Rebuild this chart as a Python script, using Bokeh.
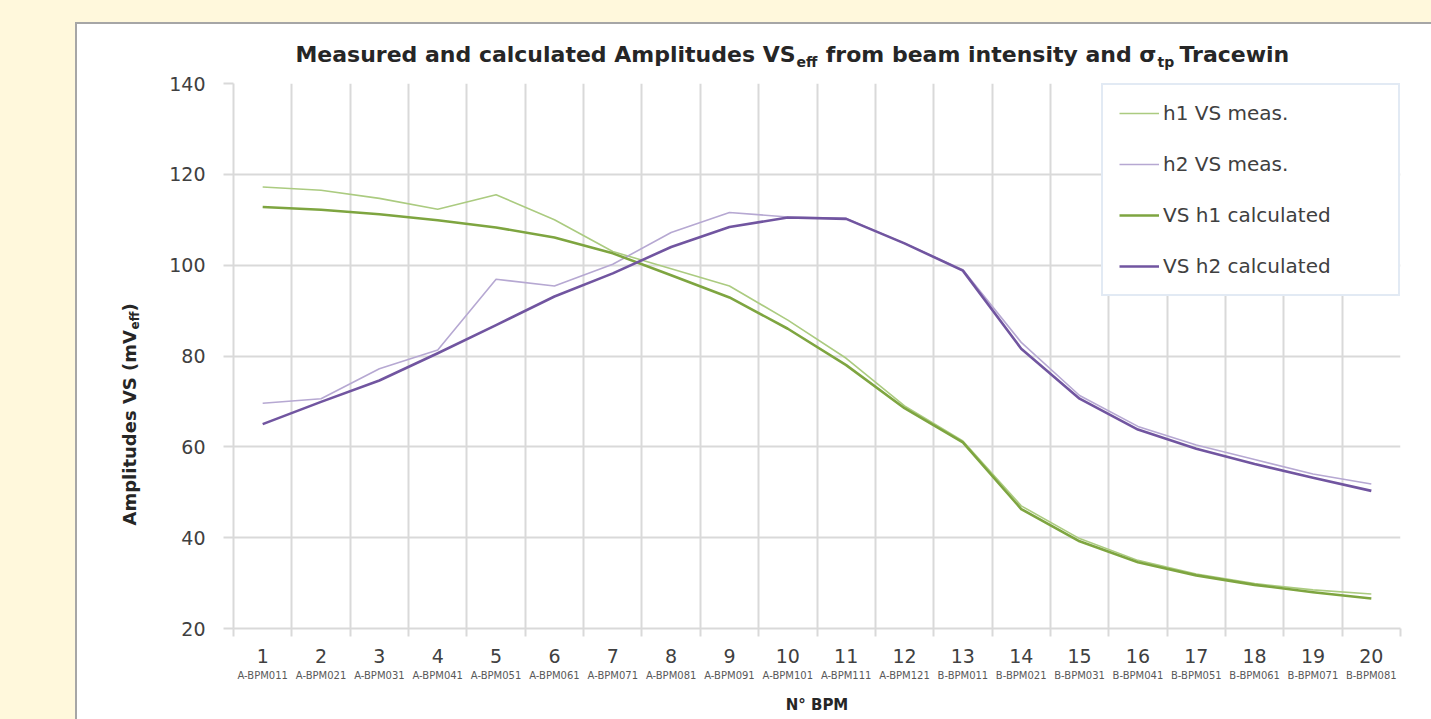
from math import pi
from bokeh.plotting import figure
from bokeh.models import (Range1d, FixedTicker, LinearAxis, Label, Spacer,
                          GlobalInlineStyleSheet)
from bokeh.layouts import column, row
from bokeh.embed import file_html
from bokeh.resources import INLINE

# ---------------- data ----------------
bpm_index = list(range(1, 21))
bpm_names = ["A-BPM011", "A-BPM021", "A-BPM031", "A-BPM041", "A-BPM051",
             "A-BPM061", "A-BPM071", "A-BPM081", "A-BPM091", "A-BPM101",
             "A-BPM111", "A-BPM121", "B-BPM011", "B-BPM021", "B-BPM031",
             "B-BPM041", "B-BPM051", "B-BPM061", "B-BPM071", "B-BPM081"]
h1_meas = [117.2, 116.5, 114.7, 112.3, 115.5, 110.0, 103.0, 99.2, 95.4, 87.9,
           79.5, 69.0, 61.3, 47.0, 39.8, 35.0, 32.0, 29.9, 28.5, 27.6]
h2_meas = [69.6, 70.6, 77.2, 81.3, 96.9, 95.4, 100.2, 107.2, 111.6, 110.6,
           110.3, 104.8, 99.0, 83.0, 71.3, 64.5, 60.4, 57.2, 54.0, 51.8]
h1_calc = [112.8, 112.2, 111.2, 109.9, 108.3, 106.1, 102.6, 97.8, 92.9, 86.0,
           78.0, 68.5, 61.0, 46.3, 39.2, 34.6, 31.7, 29.6, 28.0, 26.6]
h2_calc = [65.0, 69.9, 74.6, 80.6, 86.8, 93.1, 98.2, 104.0, 108.4, 110.5,
           110.2, 104.8, 98.8, 81.6, 70.6, 63.8, 59.6, 56.2, 53.2, 50.3]
y_ticks = [20, 40, 60, 80, 100, 120, 140]

# ---------------- styling / layout ----------------
FONT = "DejaVu Sans"
GRID = "#D9D9D9"
TXT = "#404040"
W, H = 1354, 695                 # whole white panel
PX0, PY0 = 77, 24                # page position of the panel
TH = 46                          # height of the title strip
LW = 80                          # width of the y-title strip
FL, FR, FT, FB = 233.0, 1400.0, 83.0, 628.0   # frame edges on the page

MX0, MY0 = PX0 + LW, PY0 + TH    # page position of main figure
MW, MH = W - LW, H - TH


def blank(width, height):
    f = figure(width=width, height=height, output_backend="svg", toolbar_location=None,
               x_axis_location=None, y_axis_location=None,
               x_range=Range1d(0, width), y_range=Range1d(0, height),
               min_border=0, min_border_left=0, min_border_right=0,
               min_border_top=0, min_border_bottom=0,
               border_fill_color="white", background_fill_color="white",
               outline_line_color=None)
    f.grid.visible = False
    return f


def lab(fig, ox, oy, x, y, text, size, align="left", bold=True, angle=0.0,
        color="#262626"):
    fig.add_layout(Label(x=x - ox, y=y - oy, x_units="canvas", y_units="canvas",
                         text=text, text_align=align, text_baseline="middle",
                         text_font=FONT, text_font_style="bold" if bold else "normal",
                         text_font_size=size, text_color=color, angle=angle))


# ---- title strip ----
tfig = blank(W, TH)
lab(tfig, PX0, PY0, 795, 54, "Measured and calculated Amplitudes VS", "22px", align="right")
lab(tfig, PX0, PY0, 796, 61, "eff", "14px")
lab(tfig, PX0, PY0, 1156, 54, "from beam intensity and \u03c3", "22px", align="right")
lab(tfig, PX0, PY0, 1157, 61, "tp", "14px")
lab(tfig, PX0, PY0, 1179, 54, "Tracewin", "22px")

# ---- y-title strip ----
yfig = blank(LW, MH)
lab(yfig, PX0, MY0, 129, 525, "Amplitudes VS (mV", "18px", angle=pi / 2)
lab(yfig, PX0, MY0, 134, 329, "eff", "12px", angle=pi / 2)
lab(yfig, PX0, MY0, 129, 311, ")", "18px", angle=pi / 2)

# ---- main chart ----
p = figure(width=MW, height=MH, output_backend="svg", toolbar_location=None,
           x_range=Range1d(0.5, 20.5), y_range=Range1d(20, 140),
           min_border_left=int(FL - MX0), min_border_right=int(MW - (FR - MX0)),
           min_border_top=int(FT - MY0), min_border_bottom=int(MH - (FB - MY0)),
           border_fill_color="white", background_fill_color="white",
           outline_line_color=None)

p.xgrid.ticker = FixedTicker(ticks=[k + 0.5 for k in range(0, 21)])
p.ygrid.ticker = FixedTicker(ticks=y_ticks)
p.grid.grid_line_color = GRID
p.grid.grid_line_width = 2

xa = p.xaxis[0]
xa.ticker = FixedTicker(ticks=bpm_index, minor_ticks=[k + 0.5 for k in range(0, 21)])
xa.axis_line_color = GRID
xa.axis_line_width = 2
xa.major_tick_line_color = None
xa.major_tick_out = 8
xa.major_tick_in = 0
xa.minor_tick_line_color = GRID
xa.minor_tick_line_width = 2
xa.minor_tick_out = 8
xa.minor_tick_in = 0
xa.major_label_standoff = 12
xa.major_label_text_font = FONT
xa.major_label_text_font_size = "19px"
xa.major_label_text_color = TXT

xa2 = LinearAxis(ticker=FixedTicker(ticks=bpm_index),
                 major_label_overrides={i: n for i, n in zip(bpm_index, bpm_names)})
xa2.axis_line_color = None
xa2.major_tick_line_color = None
xa2.minor_tick_line_color = None
xa2.major_tick_out = 0
xa2.major_label_standoff = 4
xa2.major_label_text_font = FONT
xa2.major_label_text_font_size = "10px"
xa2.major_label_text_color = "#595959"
xa2.axis_label = "N\u00b0 BPM"
xa2.axis_label_standoff = 12
xa2.axis_label_text_font = FONT
xa2.axis_label_text_font_style = "bold"
xa2.axis_label_text_font_size = "15px"
xa2.axis_label_text_color = "#262626"
p.add_layout(xa2, "below")

ya = p.yaxis[0]
ya.ticker = FixedTicker(ticks=y_ticks)
ya.axis_line_color = GRID
ya.axis_line_width = 2
ya.major_tick_line_color = GRID
ya.major_tick_line_width = 2
ya.major_tick_out = 10
ya.major_tick_in = 0
ya.minor_tick_line_color = None
ya.major_label_standoff = 18
ya.major_label_text_font = FONT
ya.major_label_text_font_size = "19px"
ya.major_label_text_color = TXT

p.line(bpm_index, h1_meas, line_color="#ABCB80", line_width=1.6, line_join="round",
       legend_label="h1 VS meas.")
p.line(bpm_index, h2_meas, line_color="#B6A8D2", line_width=1.6, line_join="round",
       legend_label="h2 VS meas.")
p.line(bpm_index, h1_calc, line_color="#7EA540", line_width=2.6, line_join="round",
       legend_label="VS h1 calculated")
p.line(bpm_index, h2_calc, line_color="#7155A0", line_width=2.6, line_join="round",
       legend_label="VS h2 calculated")

lg = p.legend[0]
lg.location = "top_right"
lg.margin = 0
lg.padding = 16
lg.spacing = 27
lg.label_height = 20
lg.glyph_height = 20
lg.glyph_width = 40
lg.label_standoff = 4
lg.label_width = 219
lg.label_text_font = FONT
lg.label_text_font_size = "20px"
lg.label_text_color = TXT
lg.border_line_color = "#C6D5EA"
lg.border_line_width = 2
lg.background_fill_color = "white"
lg.background_fill_alpha = 1.0

panel = column(tfig, row(yfig, p, styles={"background-color": "white"}),
               styles={"outline": "2px solid #A6A6A6", "background-color": "white"})

layout = column(Spacer(height=PY0), row(Spacer(width=PX0), panel),
                stylesheets=[GlobalInlineStyleSheet(css="body { background-color: #FFF8DC; }")])

open("out.html", "w").write(file_html(layout, INLINE))
